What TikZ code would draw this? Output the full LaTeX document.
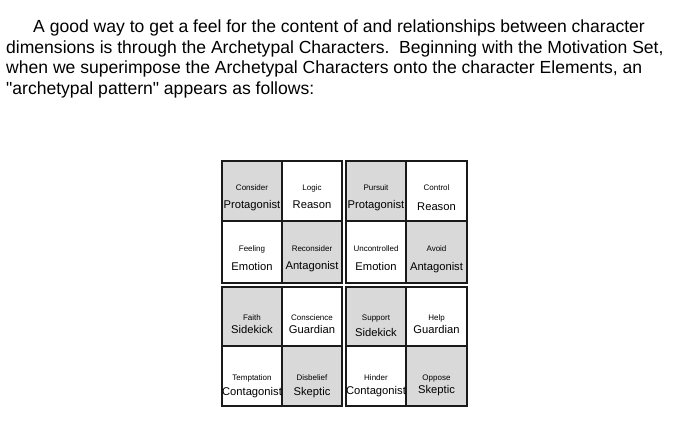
\documentclass[tikz,border=0pt]{standalone}
\usepackage{fontspec}
\setmainfont{Liberation Sans}
\newfontfamily\rawsans{Liberation Sans}
\definecolor{cellgray}{HTML}{D9D9D9}
\definecolor{gridline}{HTML}{1A1A1A}
\begin{document}
\begin{tikzpicture}[x=1pt,y=-1pt,
  cell/.style={draw=gridline, line width=1.4pt, inner sep=0pt, outer sep=0pt},
  shaded/.style={cell, fill=cellgray},
  plain/.style={cell, fill=white},
  small/.style={font=\fontsize{8}{9}\selectfont, anchor=base, inner sep=0pt},
  big/.style={font=\fontsize{11.2}{13}\selectfont, anchor=base, inner sep=0pt},
  para/.style={font=\fontsize{17.55}{20}\selectfont, anchor=base west, inner sep=0pt}]
\useasboundingbox[fill=white] (0,0) rectangle (680,438);
% paragraph
\node[para] (l1) at (33,32.7) {A good way to get a feel for the content of and relationships between character};
\node[para] (l2) at (6,53.3) {dimensions is through the Archetypal Characters.\hspace{0.55em}Beginning with the Motivation Set,};
\node[para] (l3) at (6,74) {when we superimpose the Archetypal Characters onto the character Elements, an};
\node[para] (l4) at (6,94.5) {\rawsans "archetypal pattern" appears as follows:};
% quadrant 1
\node[shaded, minimum width=60pt, minimum height=60pt] (c11) at (252,191) {};
\node[plain,  minimum width=60pt, minimum height=60pt] (c12) at (312,191) {};
\node[plain,  minimum width=60pt, minimum height=62pt] (c21) at (252,252) {};
\node[shaded, minimum width=60pt, minimum height=62pt] (c22) at (312,252) {};
% quadrant 2
\node[shaded, minimum width=60pt, minimum height=60pt] (c13) at (376,191) {};
\node[plain,  minimum width=61pt, minimum height=60pt] (c14) at (436.5,191) {};
\node[plain,  minimum width=60pt, minimum height=62pt] (c23) at (376,252) {};
\node[shaded, minimum width=61pt, minimum height=62pt] (c24) at (436.5,252) {};
% quadrant 3
\node[shaded, minimum width=60pt, minimum height=59pt] (c31) at (252,316.5) {};
\node[plain,  minimum width=60pt, minimum height=59pt] (c32) at (312,316.5) {};
\node[plain,  minimum width=60pt, minimum height=60pt] (c41) at (252,376) {};
\node[shaded, minimum width=60pt, minimum height=60pt] (c42) at (312,376) {};
% quadrant 4
\node[shaded, minimum width=60pt, minimum height=59pt] (c33) at (376,316.5) {};
\node[plain,  minimum width=61pt, minimum height=59pt] (c34) at (436.5,316.5) {};
\node[plain,  minimum width=60pt, minimum height=60pt] (c43) at (376,376) {};
\node[shaded, minimum width=61pt, minimum height=60pt] (c44) at (436.5,376) {};
% texts row 1
\node[small] (s11) at (252,191) {Consider};
\node[big]   (b11) at (252,209) {Protagonist};
\node[small] (s12) at (312,191) {Logic};
\node[big]   (b12) at (312,208.5) {Reason};
\node[small] (s13) at (376,191) {Pursuit};
\node[big]   (b13) at (376,209) {Protagonist};
\node[small] (s14) at (436.5,191) {Control};
\node[big]   (b14) at (436.5,210.5) {Reason};
% texts row 2
\node[small] (s21) at (252,252) {Feeling};
\node[big]   (b21) at (252,271) {Emotion};
\node[small] (s22) at (312,252) {Reconsider};
\node[big]   (b22) at (312,270) {Antagonist};
\node[small] (s23) at (376,252) {Uncontrolled};
\node[big]   (b23) at (376,271) {Emotion};
\node[small] (s24) at (436.5,252) {Avoid};
\node[big]   (b24) at (436.5,271) {Antagonist};
% texts row 3
\node[small] (s31) at (252,320) {Faith};
\node[big]   (b31) at (252,334) {Sidekick};
\node[small] (s32) at (312,320) {Conscience};
\node[big]   (b32) at (312,334) {Guardian};
\node[small] (s33) at (376,320) {Support};
\node[big]   (b33) at (376,336) {Sidekick};
\node[small] (s34) at (436.5,320) {Help};
\node[big]   (b34) at (436.5,334) {Guardian};
% texts row 4
\node[small] (s41) at (252,380.5) {Temptation};
\node[big]   (b41) at (252,395) {Contagonist};
\node[small] (s42) at (312,380.5) {Disbelief};
\node[big]   (b42) at (312,395) {Skeptic};
\node[small] (s43) at (376,380.5) {Hinder};
\node[big]   (b43) at (376,394) {Contagonist};
\node[small] (s44) at (436.5,380.5) {Oppose};
\node[big]   (b44) at (436.5,393.5) {Skeptic};
\end{tikzpicture}
\end{document}
